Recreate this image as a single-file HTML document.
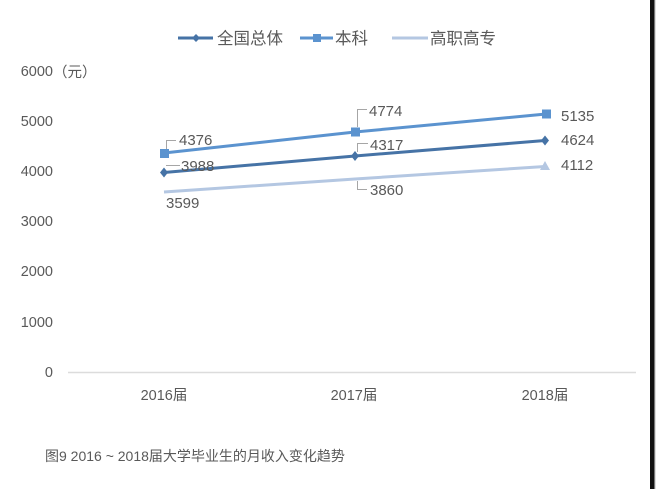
<!DOCTYPE html>
<html><head><meta charset="utf-8"><style>
html,body{margin:0;padding:0;background:#fff;}
svg{display:block;}
text{font-family:"Liberation Sans","Noto Sans CJK SC",sans-serif;fill:#595959;}
</style></head><body>
<svg width="656" height="489" viewBox="0 0 656 489" xmlns="http://www.w3.org/2000/svg">
<rect x="0" y="0" width="656" height="489" fill="#ffffff"/>
<rect x="650" y="0" width="4.5" height="489" fill="#111"/>
<rect x="654.5" y="0" width="1.5" height="489" fill="#ddd"/>

<!-- legend -->
<line x1="178" y1="38" x2="213" y2="38" stroke="#4673a6" stroke-width="3"/>
<path d="M196 34 L200 38 L196 42 L192 38 Z" fill="#4673a6"/>
<text x="217" y="44" font-size="16.5" fill="#505050">全国总体</text>
<line x1="300" y1="38" x2="333" y2="38" stroke="#5b93cf" stroke-width="3"/>
<rect x="313" y="34" width="8" height="8" fill="#5b93cf"/>
<text x="335" y="44" font-size="16.5" fill="#505050">本科</text>
<line x1="392" y1="38" x2="428" y2="38" stroke="#b4c7e2" stroke-width="3"/>
<text x="430" y="44" font-size="16.5" fill="#505050">高职高专</text>

<!-- y axis labels -->
<g font-size="14.5" text-anchor="end">
<text x="53" y="76">6000</text>
<text x="53" y="126">5000</text>
<text x="53" y="176">4000</text>
<text x="53" y="226">3000</text>
<text x="53" y="276">2000</text>
<text x="53" y="327">1000</text>
<text x="53" y="377">0</text>
</g>
<text x="53" y="77" font-size="14.5">（元）</text>

<!-- axis -->
<line x1="68" y1="372.5" x2="636" y2="372.5" stroke="#dcdcdc" stroke-width="1.5"/>
<g font-size="14.5" text-anchor="middle">
<text x="164" y="400">2016届</text>
<text x="354" y="400">2017届</text>
<text x="545" y="400">2018届</text>
</g>

<!-- series 高职高专 -->
<polyline points="164,192 355,179 545,166.5" fill="none" stroke="#b4c7e2" stroke-width="3"/>
<path d="M545 161 L550 170 L540 170 Z" fill="#b4c7e2"/>
<!-- series 全国总体 -->
<polyline points="164,172.5 355,156 545,140.5" fill="none" stroke="#4673a6" stroke-width="3"/>
<path d="M164 167.5 L168 172.5 L164 177.5 L160 172.5 Z" fill="#4673a6"/>
<path d="M355 151 L359 156 L355 161 L351 156 Z" fill="#4673a6"/>
<path d="M545 135.5 L549 140.5 L545 145.5 L541 140.5 Z" fill="#4673a6"/>
<!-- series 本科 -->
<polyline points="164,153 355,132 546,114" fill="none" stroke="#5b93cf" stroke-width="3"/>
<rect x="160" y="149" width="9" height="9" fill="#5b93cf"/>
<rect x="351" y="127.5" width="9" height="9" fill="#5b93cf"/>
<rect x="542" y="109.5" width="9" height="9" fill="#5b93cf"/>

<!-- leader lines -->
<g stroke="#a6a6a6" stroke-width="1" fill="none">
<path d="M176 140.5 H166.5 V149"/>
<path d="M180 165.5 H166"/>
<path d="M367 109.5 H357.5 V127"/>
<path d="M368 143.5 H357.5 V152"/>
<path d="M357.5 181 V189.5 H367"/>
</g>

<!-- data labels -->
<g font-size="15" fill="#505050">
<text x="179" y="145">4376</text>
<text x="181" y="171">3988</text>
<text x="166" y="208">3599</text>
<text x="369" y="116">4774</text>
<text x="370" y="150">4317</text>
<text x="370" y="195">3860</text>
<text x="561" y="121">5135</text>
<text x="561" y="145">4624</text>
<text x="561" y="170">4112</text>
</g>

<!-- caption -->
<text x="45" y="461" font-size="14" fill="#555">图9 2016 ~ 2018届大学毕业生的月收入变化趋势</text>
</svg>
</body></html>
